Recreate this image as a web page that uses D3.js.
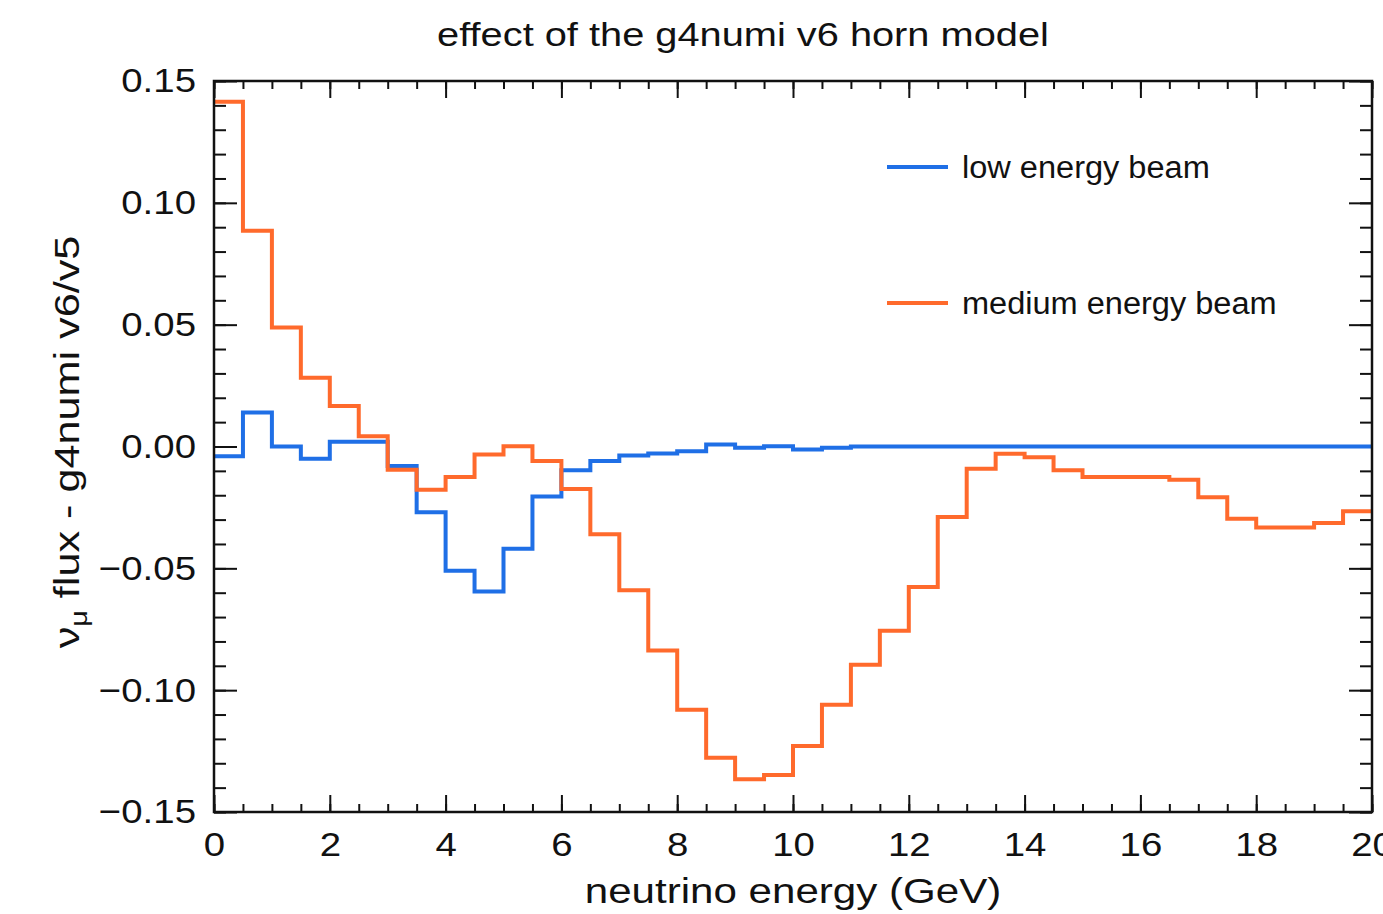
<!DOCTYPE html>
<html>
<head>
<meta charset="utf-8">
<script src="https://cdn.jsdelivr.net/npm/d3@7"></script>
<style>
	body { margin: 0; background: #fff; }
	text { font-family: "Liberation Sans", Arial, Helvetica, sans-serif; fill: #111; }
</style>
</head>
<body>
<svg id="chart" width="1383" height="914"></svg>
<script>
// lower edges of the 0.5 GeV bins, last entry closes the final bin
var binEdges = [0, 0.5, 1, 1.5, 2, 2.5, 3, 3.5, 4, 4.5, 5, 5.5, 6, 6.5, 7, 7.5, 8, 8.5, 9, 9.5,
	10, 10.5, 11, 11.5, 12, 12.5, 13, 13.5, 14, 14.5, 15, 15.5, 16, 16.5, 17, 17.5, 18, 18.5, 19, 19.5, 20];

var lowEnergyBeam = [-0.004, 0.014, 0.000, -0.005, 0.002, 0.002, -0.008, -0.027, -0.051, -0.0595,
	-0.042, -0.0205, -0.0097, -0.006, -0.0037, -0.0029, -0.0019, 0.0008, -0.0005, 0.0001,
	-0.0012, -0.0005, 0, 0, 0, 0, 0, 0, 0, 0,
	0, 0, 0, 0, 0, 0, 0, 0, 0, 0];

var mediumEnergyBeam = [0.1415, 0.0885, 0.0488, 0.0282, 0.0166, 0.0042, -0.0095, -0.0177, -0.0125, -0.0033,
	0.0001, -0.006, -0.0174, -0.036, -0.059, -0.0837, -0.108, -0.1277, -0.1366, -0.1348,
	-0.1229, -0.106, -0.0896, -0.0756, -0.0577, -0.0289, -0.0091, -0.003, -0.0044, -0.0097,
	-0.0125, -0.0125, -0.0125, -0.0136, -0.0208, -0.0297, -0.0332, -0.0332, -0.0314, -0.0266];

var xMajorTicks = [0, 2, 4, 6, 8, 10, 12, 14, 16, 18, 20];
var yMajorTicks = [-0.15, -0.10, -0.05, 0.00, 0.05, 0.10, 0.15];

var series = [
	{name: "low energy beam", values: lowEnergyBeam, color: "#1f6fe6", legendY: 167},
	{name: "medium energy beam", values: mediumEnergyBeam, color: "#ff6a2c", legendY: 303}
];

var frame = {left: 214, right: 1372, top: 81, bottom: 812};
var stretch = 1.17; // the original glyphs run wider than Liberation Sans

var svg = d3.select("#chart");

var x = d3.scaleLinear().domain([0, 20]).range([frame.left, frame.right]);
var y = d3.scaleLinear().domain([-0.15, 0.15]).range([frame.bottom, frame.top]);

var fmtY = function(d) {
	var s = d3.format(".2f")(Math.abs(d));
	return d < 0 ? "\u2212" + s : s;
};

// minor ticks, every bin on x and every 0.01 on y, pointing inward
var xMinor = d3.range(0, 41).map(function(i) { return i * 0.5; });
var yMinor = d3.range(-15, 16).map(function(i) { return i / 100; });

var drawTicks = function(axis, transform) {
	var g = svg.append("g").attr("transform", transform).call(axis);
	g.select(".domain").remove();
	g.selectAll(".tick line").attr("stroke", "#111").attr("stroke-width", 2);
	return g;
};

drawTicks(d3.axisBottom(x).tickValues(xMinor).tickSize(-8).tickFormat(""), "translate(0," + frame.bottom + ")");
drawTicks(d3.axisTop(x).tickValues(xMinor).tickSize(-8).tickFormat(""), "translate(0," + frame.top + ")");
drawTicks(d3.axisLeft(y).tickValues(yMinor).tickSize(-12).tickFormat(""), "translate(" + frame.left + ",0)");
drawTicks(d3.axisRight(y).tickValues(yMinor).tickSize(-12).tickFormat(""), "translate(" + frame.right + ",0)");

var bottomAxis = drawTicks(d3.axisBottom(x).tickValues(xMajorTicks).tickSize(-17).tickPadding(20)
	.tickFormat(d3.format("d")), "translate(0," + frame.bottom + ")");
drawTicks(d3.axisTop(x).tickValues(xMajorTicks).tickSize(-17).tickFormat(""), "translate(0," + frame.top + ")");
var leftAxis = drawTicks(d3.axisLeft(y).tickValues(yMajorTicks).tickSize(-23).tickPadding(18)
	.tickFormat(fmtY), "translate(" + frame.left + ",0)");
drawTicks(d3.axisRight(y).tickValues(yMajorTicks).tickSize(-23).tickFormat(""), "translate(" + frame.right + ",0)");

bottomAxis.selectAll(".tick text")
	.attr("font-size", 34)
	.attr("font-family", null)
	.attr("dy", "0.71em")
	.attr("transform", "scale(1.13,1)");

leftAxis.selectAll(".tick text")
	.attr("font-size", 34)
	.attr("font-family", null)
	.attr("x", -18 / 1.13)
	.attr("transform", "scale(1.13,1)");

// histograms as step lines over the bin edges
var step = d3.line()
	.x(function(d) { return x(d[0]); })
	.y(function(d) { return y(d[1]); })
	.curve(d3.curveStepAfter);

series.forEach(function(s) {
	var pts = s.values.map(function(v, i) { return [binEdges[i], v]; });
	pts.push([binEdges[binEdges.length - 1], s.values[s.values.length - 1]]);
	svg.append("path")
		.attr("d", step(pts))
		.attr("fill", "none")
		.attr("stroke", s.color)
		.attr("stroke-width", 4)
		.attr("stroke-linejoin", "miter");
});

// frame
svg.append("rect")
	.attr("x", frame.left)
	.attr("y", frame.top)
	.attr("width", frame.right - frame.left)
	.attr("height", frame.bottom - frame.top)
	.attr("fill", "none")
	.attr("stroke", "#111")
	.attr("stroke-width", 2.5);

// legend
series.forEach(function(s) {
	svg.append("line")
		.attr("x1", 887).attr("x2", 948)
		.attr("y1", s.legendY).attr("y2", s.legendY)
		.attr("stroke", s.color)
		.attr("stroke-width", 4);
	svg.append("text")
		.attr("transform", "translate(962," + (s.legendY + 11) + ") scale(1.05,1)")
		.attr("font-size", 31)
		.text(s.name);
});

// title and axis titles
svg.append("text")
	.attr("transform", "translate(743,46) scale(" + stretch + ",1)")
	.attr("text-anchor", "middle")
	.attr("font-size", 34)
	.text("effect of the g4numi v6 horn model");

svg.append("text")
	.attr("transform", "translate(" + ((frame.left + frame.right) / 2) + ",903) scale(1.17,1)")
	.attr("text-anchor", "middle")
	.attr("font-size", 36)
	.text("neutrino energy (GeV)");

var yTitle = svg.append("text")
	.attr("transform", "translate(79,442) rotate(-90) scale(1.2,1)")
	.attr("text-anchor", "middle")
	.attr("font-size", 36);
yTitle.append("tspan").text("\u03bd");
yTitle.append("tspan").attr("font-size", 24).attr("dy", 8).text("\u03bc");
yTitle.append("tspan").attr("dy", -8).text(" flux - g4numi v6/v5");
</script>
</body>
</html>
